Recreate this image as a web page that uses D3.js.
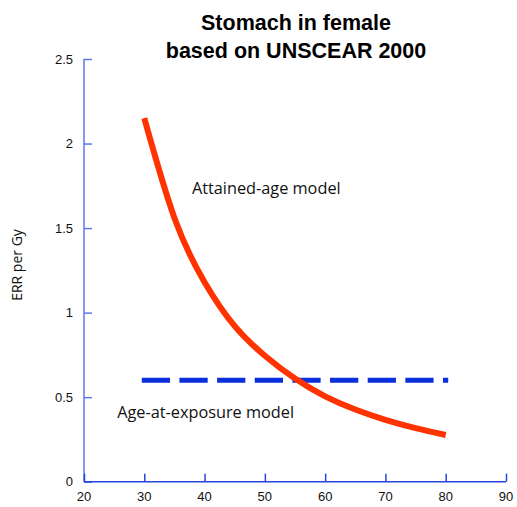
<!DOCTYPE html>
<html><head><meta charset="utf-8">
<script src="https://cdn.jsdelivr.net/npm/d3@7"></script>
<style>body{margin:0;background:#fff;} svg{display:block;}</style>
</head><body>
<svg id="c" width="517" height="507"></svg>
<script>
const titleLines = ["Stomach in female", "based on UNSCEAR 2000"];
const yLabel = "ERR per Gy";
const xTicks = [20, 30, 40, 50, 60, 70, 80, 90];
const yTicks = [0, 0.5, 1, 1.5, 2, 2.5];
const attainedAge = [30, 35, 40, 45, 50, 55, 60, 65, 70, 75, 80];
const attainedErr = [2.15, 1.56, 1.18, 0.92, 0.745, 0.61, 0.505, 0.427, 0.366, 0.317, 0.276];
const exposureAge = [30, 80];
const exposureErr = [0.6, 0.6];
const labels = [
  {text: "Attained-age model", x: 37.9, y: 1.7},
  {text: "Age-at-exposure model", x: 25.5, y: 0.375}
];

const svg = d3.select("#c");
const x = d3.scaleLinear().domain([20, 90]).range([84, 506]);
const y = d3.scaleLinear().domain([0, 2.5]).range([481.7, 59]);
const font = "Helvetica, Arial, 'Liberation Sans', sans-serif";
const font2 = "'Open Sans', 'Noto Sans', sans-serif";

// axes
const yAxis = svg.append("g").attr("transform", `translate(${x(20)},0)`)
  .call(d3.axisRight(y).tickValues(yTicks).tickSize(8).tickFormat(""));
yAxis.select(".domain").attr("stroke", "#5b78e6").attr("stroke-width", 1.5)
  .attr("d", `M0,${y(0)}V${y(2.5)}`);
yAxis.selectAll(".tick line").attr("stroke", "#5b78e6").attr("stroke-width", 1.5);

const xAxis = svg.append("g").attr("transform", `translate(0,${y(0)})`)
  .call(d3.axisTop(x).tickValues(xTicks).tickSize(8).tickFormat(""));
xAxis.select(".domain").attr("stroke", "#2545e0").attr("stroke-width", 1.5)
  .attr("d", `M${x(20)},0H${x(90)}`);
xAxis.selectAll(".tick line").attr("stroke", "#2545e0").attr("stroke-width", 1.5);

// tick labels
svg.append("g").selectAll("text").data(xTicks).join("text")
  .attr("x", d => x(d)).attr("y", 501).attr("text-anchor", "middle")
  .attr("font-family", font).attr("font-size", 13).attr("fill", "#111").text(d => d);
svg.append("g").selectAll("text").data(yTicks).join("text")
  .attr("x", 73).attr("y", d => y(d) + 4.5).attr("text-anchor", "end")
  .attr("font-family", font).attr("font-size", 13).attr("fill", "#111").text(d => d);

// y label
svg.append("text").attr("transform", "translate(22,265) rotate(-90)")
  .attr("text-anchor", "middle").attr("font-family", font2).attr("font-size", 14)
  .attr("fill", "#111").text(yLabel);

// title
svg.append("g").selectAll("text").data(titleLines).join("text")
  .attr("x", 296).attr("y", (d, i) => 30 + i * 28).attr("text-anchor", "middle")
  .attr("font-family", font).attr("font-weight", "bold").attr("font-size", 21.5)
  .attr("fill", "#000").text(d => d);

// lines
const line = d3.line().x(d => x(d[0])).y(d => y(d[1]));
svg.append("path")
  .datum(exposureAge.map((a, i) => [a, exposureErr[i]]))
  .attr("d", line).attr("fill", "none").attr("stroke", "#0a2fdc")
  .attr("stroke-width", 5).attr("stroke-linecap", "square")
  .attr("stroke-dasharray", "23.25,14.4");
svg.append("path")
  .datum(attainedAge.map((a, i) => [a, attainedErr[i]]))
  .attr("d", line.curve(d3.curveNatural)).attr("fill", "none").attr("stroke", "#ff3300")
  .attr("stroke-width", 6);

// text labels
svg.append("g").selectAll("text").data(labels).join("text")
  .attr("x", d => x(d.x)).attr("y", d => y(d.y)).attr("font-family", font2)
  .attr("font-size", 16.3).attr("fill", "#111").text(d => d.text);
</script>
</body></html>
